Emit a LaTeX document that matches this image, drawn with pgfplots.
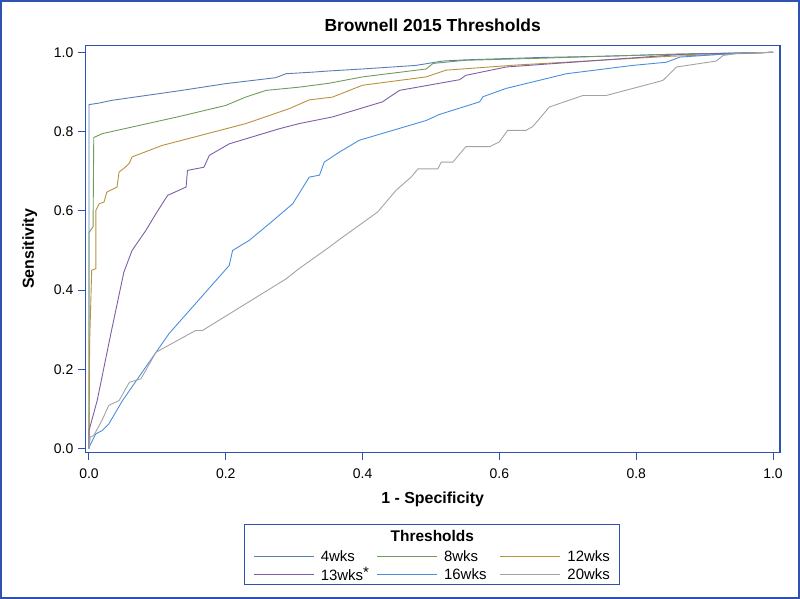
\documentclass[border=0pt]{standalone}
\usepackage{pgfplots}
\pgfplotsset{compat=1.18}
\usepackage{fontspec}
\setmainfont{Liberation Sans}
\definecolor{frameblue}{HTML}{2F52B0}
\definecolor{cA}{HTML}{5A7DB3}
\definecolor{cB}{HTML}{6E9C5E}
\definecolor{cC}{HTML}{B8923E}
\definecolor{cD}{HTML}{7F5DA9}
\definecolor{cE}{HTML}{4A8FDF}
\definecolor{cF}{HTML}{A3A3A3}
\begin{document}
\begin{tikzpicture}
\begin{axis}[
  name=ax,
  scale only axis,
  width=694.3bp, height=407bp,
  xmin=-0.0053, xmax=1.0102, ymin=-0.0101, ymax=1.0177,
  axis line style={frameblue, line width=1.1bp},
  tick style={frameblue, line width=1bp},
  tick align=outside, major tick length=7.5bp,
  tick pos=left,
  xtick={0,0.2,0.4,0.6,0.8,1.0}, ytick={0,0.2,0.4,0.6,0.8,1.0},
  minor tick num=0,
  /pgf/number format/assume math mode=true,
  /pgf/number format/.cd, fixed, fixed zerofill, precision=1, /pgfplots/.cd,
  ticklabel style={font=\fontsize{14}{16}\selectfont, text=black},
  xticklabel style={yshift=-5.5bp},
  yticklabel style={xshift=-1bp},
  xlabel={\textbf{1 - Specificity}},
  ylabel={\textbf{Sensitivity}},
  label style={font=\fontsize{16}{18}\selectfont},
  xlabel style={yshift=-6bp},
  ylabel style={yshift=10bp},
  title={\textbf{Brownell 2015 Thresholds}},
  title style={font=\fontsize{17.5}{20}\selectfont, yshift=4bp},
  legend columns=3,
  legend cell align=left,
  legend style={draw=none, fill=none, at={(0.2416,-0.2359)}, anchor=north west,
    inner sep=0pt, font=\fontsize{15}{17}\selectfont,
    /tikz/every even column/.append style={column sep=12bp},
    row sep=1.5bp, nodes={inner sep=1.5bp}},
  legend image code/.code={\draw[#1] (0bp,0bp) -- (60bp,0bp); \path (65bp,0bp);},
  every axis plot/.append style={line width=0.9bp},
]
\addplot[cA] coordinates {(0,0) (0,0.868) (0.015,0.872) (0.034,0.879) (0.083,0.891) (0.132,0.903) (0.2,0.921) (0.273,0.936) (0.288,0.946) (0.327,0.95) (0.351,0.953) (0.40,0.958) (0.478,0.967) (0.517,0.978) (0.55,0.981) (0.659,0.987) (0.75,0.99) (0.85,0.995) (0.95,0.998) (1,1)};
\addlegendentry{4wks}
\addplot[cB] coordinates {(0,0) (0,0.545) (0.006,0.56) (0.007,0.785) (0.02,0.795) (0.132,0.838) (0.2,0.866) (0.229,0.887) (0.259,0.904) (0.307,0.912) (0.351,0.922) (0.4,0.938) (0.493,0.958) (0.503,0.972) (0.551,0.98) (0.659,0.985) (0.75,0.99) (0.85,0.995) (1,1)};
\addlegendentry{8wks}
\addplot[cC] coordinates {(0,0) (0.001,0.27) (0.004,0.45) (0.01,0.454) (0.01,0.601) (0.015,0.618) (0.022,0.622) (0.026,0.647) (0.041,0.66) (0.044,0.698) (0.051,0.707) (0.059,0.72) (0.063,0.736) (0.107,0.765) (0.229,0.82) (0.293,0.858) (0.322,0.88) (0.356,0.887) (0.4,0.917) (0.493,0.938) (0.522,0.955) (0.625,0.968) (0.747,0.98) (0.85,0.99) (1,1)};
\addlegendentry{12wks}
\addplot[cD] coordinates {(0,0) (0,0.045) (0.012,0.121) (0.032,0.29) (0.051,0.445) (0.063,0.5) (0.083,0.55) (0.098,0.593) (0.115,0.639) (0.142,0.66) (0.144,0.702) (0.168,0.71) (0.176,0.74) (0.205,0.769) (0.278,0.807) (0.307,0.82) (0.356,0.837) (0.429,0.875) (0.454,0.904) (0.542,0.931) (0.551,0.942) (0.61,0.963) (0.747,0.98) (0.868,0.995) (1,1)};
\addlegendentry{13wks\rlap{\raisebox{3bp}{*}}}
\addplot[cE] coordinates {(0,0) (0,0.003) (0.01,0.037) (0.019,0.045) (0.029,0.062) (0.049,0.121) (0.117,0.29) (0.205,0.462) (0.21,0.5) (0.234,0.525) (0.264,0.568) (0.298,0.618) (0.322,0.685) (0.337,0.69) (0.344,0.723) (0.366,0.748) (0.395,0.778) (0.493,0.828) (0.512,0.843) (0.571,0.875) (0.576,0.888) (0.61,0.909) (0.698,0.946) (0.795,0.967) (0.844,0.975) (0.864,0.988) (0.941,0.997) (1,1)};
\addlegendentry{16wks}
\addplot[cF] coordinates {(0,0) (0.002,0.029) (0.007,0.033) (0.019,0.071) (0.029,0.109) (0.044,0.121) (0.059,0.167) (0.076,0.176) (0.098,0.243) (0.156,0.298) (0.166,0.298) (0.288,0.428) (0.307,0.454) (0.351,0.508) (0.364,0.525) (0.422,0.597) (0.449,0.652) (0.471,0.685) (0.481,0.706) (0.51,0.706) (0.515,0.723) (0.532,0.723) (0.551,0.762) (0.586,0.762) (0.6,0.774) (0.612,0.803) (0.639,0.803) (0.649,0.813) (0.673,0.862) (0.722,0.891) (0.756,0.891) (0.839,0.929) (0.859,0.963) (0.917,0.978) (0.927,0.992) (0.95,0.998) (1,1)};
\addlegendentry{20wks}
\end{axis}
\draw[frameblue, line width=1.1bp] ([shift={(159.3bp,-71.5bp)}]ax.south west) rectangle ([shift={(534.3bp,-131.5bp)}]ax.south west);
\node[font=\fontsize{15.5}{17}\selectfont\bfseries, inner sep=0pt] at ([shift={(346.8bp,-83bp)}]ax.south west) {Thresholds};
\draw[frameblue, line width=1.6bp] ([shift={(-84.5bp,-145.5bp)}]ax.south west) rectangle ([shift={(713.5bp,451.5bp)}]ax.south west);
\end{tikzpicture}
\end{document}
